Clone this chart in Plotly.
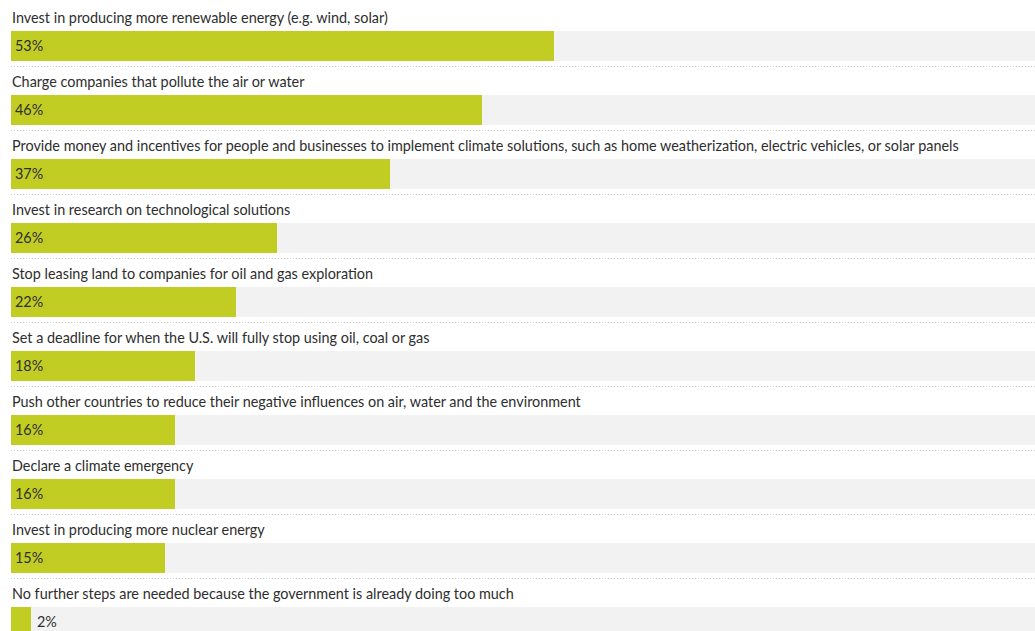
import plotly.graph_objects as go

categories = [
    "Invest in producing more renewable energy (e.g. wind, solar)",
    "Charge companies that pollute the air or water",
    "Provide money and incentives for people and businesses to implement climate solutions, such as home weatherization, electric vehicles, or solar panels",
    "Invest in research on technological solutions",
    "Stop leasing land to companies for oil and gas exploration",
    "Set a deadline for when the U.S. will fully stop using oil, coal or gas",
    "Push other countries to reduce their negative influences on air, water and the environment",
    "Declare a climate emergency",
    "Invest in producing more nuclear energy",
    "No further steps are needed because the government is already doing too much",
]
values = [53, 46, 37, 26, 22, 18, 16, 16, 15, 2]

GREEN = "#c2cd23"
GRAY = "#f2f2f2"
TEXT = "#2e2e2e"
FONT = "Lato"
FSIZE = 14.4

ROW = 64
BAR_C0 = 46
BAR_H = 30
LABEL_C0 = 17

n = len(categories)
bar_y = [BAR_C0 + ROW * i for i in range(n)]

fig = go.Figure()
fig.add_trace(go.Bar(
    x=[100] * n, y=bar_y, orientation="h", width=BAR_H,
    marker=dict(color=GRAY, line=dict(width=0)), hoverinfo="skip", showlegend=False,
))
fig.add_trace(go.Bar(
    x=values, y=bar_y, orientation="h", width=BAR_H,
    marker=dict(color=GREEN, line=dict(width=0)), showlegend=False,
    hovertemplate="%{x}%<extra></extra>",
))

annotations = []
shapes = []
for i, (cat, v) in enumerate(zip(categories, values)):
    annotations.append(dict(
        x=0, y=LABEL_C0 + ROW * i, xref="x", yref="y", text=cat, showarrow=False,
        xanchor="left", yanchor="middle", xshift=-1,
        font=dict(family=FONT, size=FSIZE, color=TEXT),
    ))
    inside = v >= 5
    annotations.append(dict(
        x=0 if inside else v, y=bar_y[i] - 1, xref="x", yref="y", text=f"{v}%", showarrow=False,
        xanchor="left", yanchor="middle", xshift=2 if inside else 4,
        font=dict(family=FONT, size=FSIZE, color=TEXT),
    ))
    if i < n - 1:
        sy = bar_y[i] + BAR_H / 2 + 5.5
        shapes.append(dict(
            type="line", xref="paper", yref="y", x0=0, x1=1, y0=sy, y1=sy,
            line=dict(color="#cccccc", width=1, dash="1px,2px"),
        ))

fig.update_layout(
    width=1035, height=631,
    margin=dict(l=11, r=0, t=0, b=0),
    paper_bgcolor="white", plot_bgcolor="white",
    barmode="overlay", bargap=0,
    xaxis=dict(range=[0, 100], visible=False, fixedrange=True),
    yaxis=dict(range=[631, 0], visible=False, fixedrange=True),
    annotations=annotations, shapes=shapes,
)

fig.write_html(
    "out.html",
    config={"displayModeBar": False},
    post_script="document.body.style.margin='0';document.body.style.overflow='hidden';",
)
